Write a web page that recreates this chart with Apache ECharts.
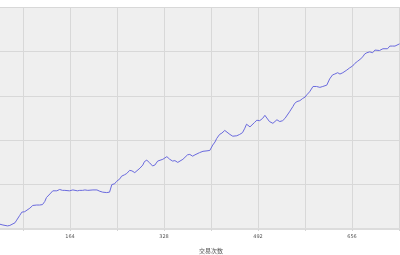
<!DOCTYPE html>
<html>
<head>
<meta charset="utf-8">
<script src="https://cdn.jsdelivr.net/npm/echarts@6/dist/echarts.min.js"></script>
<style>html,body{margin:0;padding:0;background:#fff;overflow:hidden;width:400px;height:255px;position:relative;}#c{position:absolute;left:-24px;top:0;width:470px;height:255px;}</style>
</head>
<body>
<div id="c"></div>
<script>
var tradeNo = [41,47,50,55,59,62,68,71,76,80,85,88,94,99,102,106,111,116,120,123,129,134,137,141,146,151,155,158,163,169,172,177,181,186,190,195,198,204,207,211,216,221,228,233,237,238,242,245,251,254,259,263,268,272,277,280,286,291,294,298,303,308,312,317,320,326,329,333,338,343,347,352,355,361,364,369,373,378,382,385,390,396,403,408,411,413,417,420,425,429,434,437,443,448,451,455,460,465,469,472,478,481,486,490,495,500,504,507,512,518,521,525,530,535,539,542,547,553,556,560,565,570,574,577,582,588,591,594,600,605,608,612,617,622,626,631,635,640,643,647,652,657,661,666,670,675,678,682,687,692,696,699,704,710,713,718,722,727,731,734,739];
var equity = [11,9,8,7,8,11,14,20,30,38,39,41,47,53,56,54,54,55,62,71,79,86,88,86,89,87,87,88,86,88,89,86,87,87,88,87,86,88,92,88,85,83,82,83,100,103,102,107,113,119,122,125,132,131,127,129,137,144,152,155,149,142,144,153,157,157,159,163,157,153,154,150,152,157,155,167,168,164,167,171,172,175,176,177,178,189,196,204,213,216,222,219,213,209,207,210,213,217,227,236,230,227,240,245,244,249,256,252,242,238,240,246,242,244,249,253,264,276,283,287,289,294,297,302,309,321,322,321,319,321,319,324,338,347,349,352,349,352,354,358,363,367,373,378,382,388,394,397,399,397,403,407,402,406,409,406,412,412,412,415,417];
var xTickStep = 82;
var xLabelStep = 164;
var xMax = 820;
var yMax = 500;
var yStep = 100;
var xName = '交易次数';

var data = tradeNo.map(function (t, i) { return [t, equity[i]]; });
var chart = echarts.init(document.getElementById('c'), null, {renderer: 'canvas'});
chart.setOption({
  animation: false,
  backgroundColor: '#ffffff',
  grid: {left: 0, right: 0, top: 7, bottom: 26, show: true, backgroundColor: '#efefef', borderWidth: 0, containLabel: false, outerBoundsMode: 'none'},
  xAxis: {
    type: 'value', min: 0, max: xMax, interval: xTickStep,
    name: xName, nameLocation: 'middle', nameGap: 19,
    nameTextStyle: {fontSize: 6, color: '#555', fontFamily: 'Noto Sans CJK SC'},
    axisLine: {show: true, lineStyle: {color: '#dcdcdc', width: 2}},
    axisTick: {show: true, length: 2, lineStyle: {color: '#d6d6d6'}},
    axisLabel: {fontSize: 5, color: '#555', margin: 5, fontFamily: 'DejaVu Sans', showMinLabel: true, showMaxLabel: true,
      formatter: function (v) { return (v > 0 && v < xMax && v % xLabelStep === 0) ? String(v) : ''; }},
    splitLine: {show: true, lineStyle: {color: '#d8d8d8', width: 1}}
  },
  yAxis: {
    type: 'value', min: 0, max: yMax, interval: yStep,
    axisLine: {show: false}, axisTick: {show: false}, axisLabel: {show: false},
    splitLine: {show: true, lineStyle: {color: '#d8d8d8', width: 1}}
  },
  series: [{
    type: 'line', data: data, showSymbol: false, symbol: 'none',
    lineStyle: {color: '#6a6ade', width: 1}
  }]
});
</script>
</body>
</html>
